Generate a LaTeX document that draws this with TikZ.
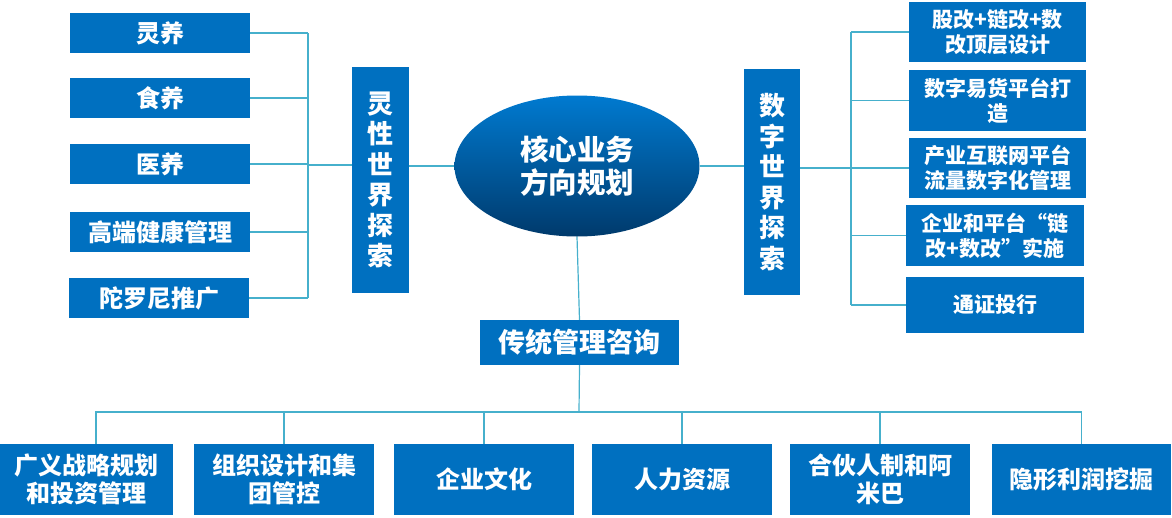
\documentclass[tikz,border=0pt]{standalone}
\usepackage{fontspec}
\newfontfamily\cjk{Noto Sans CJK SC}
\usepackage{tikz}
\usetikzlibrary{shapes.geometric,calc}

\definecolor{boxblue}{RGB}{0,112,192}
\definecolor{linkcyan}{RGB}{70,176,204}
\definecolor{coretop}{RGB}{0,122,208}
\definecolor{corebot}{RGB}{0,58,108}

\tikzset{
  tile/.style={fill=boxblue,text=white,inner sep=0pt,align=center,
    minimum width=180pt,minimum height=40pt},
  tilefont/.style 2 args={font=\cjk\bfseries\fontsize{#1}{#2}\selectfont},
  column/.style={tile,minimum width=57pt,minimum height=226pt,
    font=\cjk\bfseries\fontsize{26}{30.5}\selectfont},
  link/.style={draw=linkcyan,line width=1.2pt}
}

\begin{document}
\begin{tikzpicture}[x=1pt,y=-1pt]
  \useasboundingbox (0,0) rectangle (1172,517);
  % left branch
  \node[tile,tilefont={24}{28}] (lingyang) at (160,33) {灵养};
  \node[tile,tilefont={24}{28}] (shiyang) at (160,98) {食养};
  \node[tile,tilefont={24}{28}] (yiyang) at (160,164) {医养};
  \node[tile,tilefont={24}{28}] (gaoduan) at (160,232) {高端健康管理};
  \node[tile,tilefont={24}{28}] (tuoluoni) at (159,298) {陀罗尼推广};
  \node[column] (lingxing) at (380.5,180) {灵\\性\\世\\界\\探\\索};
  % core ellipse
  \node[ellipse,top color=coretop,bottom color=corebot,text=white,
        minimum width=245pt,minimum height=141pt,align=center,
        font=\cjk\bfseries\fontsize{28.5}{33}\selectfont] (core) at (577,166) {核心业务\\方向规划};
  % right branch
  \node[column,minimum width=56pt] (shuzi) at (772,182) {数\\字\\世\\界\\探\\索};
  \node[tile,tilefont={21}{25},minimum width=177pt,minimum height=60pt] (gaizhi) at (997.5,32) {股改+链改+数\\改顶层设计};
  \node[tile,tilefont={21}{25},minimum width=177pt,minimum height=61pt] (yihuo) at (997.5,100.5) {数字易货平台打\\造};
  \node[tile,tilefont={21}{25},minimum width=177pt,minimum height=60pt] (hulian) at (997.5,168) {产业互联网平台\\流量数字化管理};
  \node[tile,tilefont={21}{25},minimum width=178pt,minimum height=61pt] (shishi) at (995,235.5) {企业和平台“链\\改+数改”实施};
  \node[tile,tilefont={21}{25},minimum width=178pt,minimum height=56pt] (tongzheng) at (995,305) {通证投行};
  % bottom branch
  \node[tile,tilefont={27}{30},minimum width=199pt,minimum height=45pt] (chuantong) at (579.5,342.5) {传统管理咨询};
  \node[tile,tilefont={24}{28}, minimum width=173pt,minimum height=71pt] (zhanlue) at (86.5,479.5) {广义战略规划\\和投资管理};
  \node[tile,tilefont={24}{28},minimum height=71pt] (zuzhi) at (284,479.5) {组织设计和集\\团管控};
  \node[tile,tilefont={24}{28},minimum height=71pt] (wenhua) at (484,479.5) {企业文化};
  \node[tile,tilefont={24}{28},minimum height=71pt] (renli) at (682,479.5) {人力资源};
  \node[tile,tilefont={24}{28},minimum height=71pt] (amiba) at (880,479.5) {合伙人制和阿\\米巴};
  \node[tile,tilefont={24}{28},minimum width=179pt,minimum height=71pt] (yinxing) at (1081.5,479.5) {隐形利润挖掘};

  % connectors
  \coordinate (lbus) at (308,165);
  \coordinate (rbus) at (851,168);
  \coordinate (bbus) at (579,412);
  \foreach \n in {lingyang,shiyang,yiyang,gaoduan,tuoluoni}
    \draw[link] (\n.east) -- (\n.east -| lbus);
  \draw[link] (lingyang.east -| lbus) -- (tuoluoni.east -| lbus);
  \draw[link] (lbus) -- (lbus -| lingxing.west);
  \draw[link] (core.west -| lingxing.east) -- (core.west);
  \draw[link] (core.east) -- (core.east -| shuzi.west);
  \draw[link] (rbus -| shuzi.east) -- (rbus);
  \foreach \n in {gaizhi,yihuo,hulian,shishi,tongzheng}
    \draw[link] (\n.west) -- (\n.west -| rbus);
  \draw[link] (gaizhi.west -| rbus) -- (tongzheng.west -| rbus);
  \draw[link] (core.south) -- (chuantong.north);
  \draw[link] (chuantong.south) -- (bbus);
  \draw[link] ($(zhanlue.north)+(9.5,0)$) |- (bbus) -| (yinxing.north);
  \foreach \n in {zuzhi,wenhua,renli,amiba}
    \draw[link] (\n.north) -- (\n.north |- bbus);
\end{tikzpicture}
\end{document}
